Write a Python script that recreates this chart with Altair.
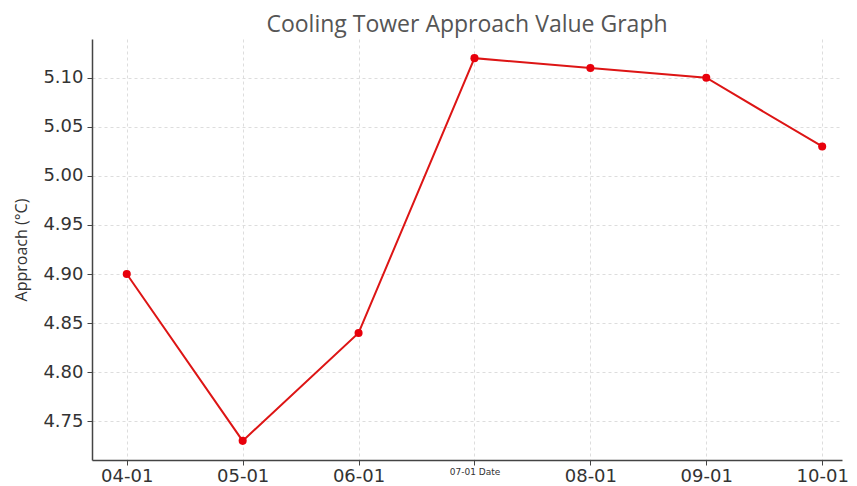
import altair as alt
import pandas as pd

dates = ["04-01", "05-01", "06-01", "07-01", "08-01", "09-01", "10-01"]
approach = [4.90, 4.73, 4.84, 5.12, 5.11, 5.10, 5.03]
y_ticks = [4.75, 4.80, 4.85, 4.90, 4.95, 5.00, 5.05, 5.10]

df = pd.DataFrame({"idx": list(range(len(dates))), "date": dates, "approach": approach})

label_list = "[" + ",".join("'" + (d + " Date" if d == "07-01" else d) + "'" for d in dates) + "]"

x = alt.X(
    "idx:Q",
    scale=alt.Scale(domain=[-0.3, 6.171], nice=False, zero=False),
    axis=alt.Axis(
        title=None,
        values=list(range(len(dates))),
        labelExpr=label_list + "[datum.value]",
        labelFontSize=alt.ExprRef(expr="datum.value == 3 ? 9 : 18"),
        labelColor="#333333",
        labelFont="DejaVu Sans",
        labelPadding=2,
        tickSize=5,
        tickColor="#444444",
        domainColor="#444444",
        domainWidth=1.5,
        gridColor="#dddddd",
        gridDash=[3, 3],
        labelFlush=False,
    ),
)
y = alt.Y(
    "approach:Q",
    scale=alt.Scale(domain=[4.7105, 5.1395], nice=False, zero=False),
    axis=alt.Axis(
        title="Approach (°C)",
        values=y_ticks,
        format=".2f",
        labelFontSize=18,
        labelColor="#333333",
        labelFont="DejaVu Sans",
        labelPadding=4,
        titleFont="Open Sans",
        titleFontSize=16,
        titleFontWeight="normal",
        titleColor="#333333",
        titlePadding=13,
        tickSize=5,
        tickColor="#444444",
        domainColor="#444444",
        domainWidth=1.5,
        gridColor="#dddddd",
        gridDash=[3, 3],
        labelFlush=False,
    ),
)

base = alt.Chart(df).encode(x=x, y=y)
line = base.mark_line(color="#dd1515", strokeWidth=2)
pts = base.mark_circle(color="#e8000b", size=65, opacity=1)

chart = (
    (line + pts)
    .properties(
        width=750,
        height=421,
        title=alt.TitleParams(
            "Cooling Tower Approach Value Graph",
            font="Open Sans",
            fontSize=23,
            fontWeight="normal",
            color="#555555",
            offset=2,
        ),
        autosize=alt.AutoSizeParams(type="none"),
        padding={"left": 84, "top": 31, "right": 7, "bottom": 24},
    )
    .configure_view(stroke=None)
)

chart.save("out.html", embed_options={"renderer": "svg", "actions": False})
